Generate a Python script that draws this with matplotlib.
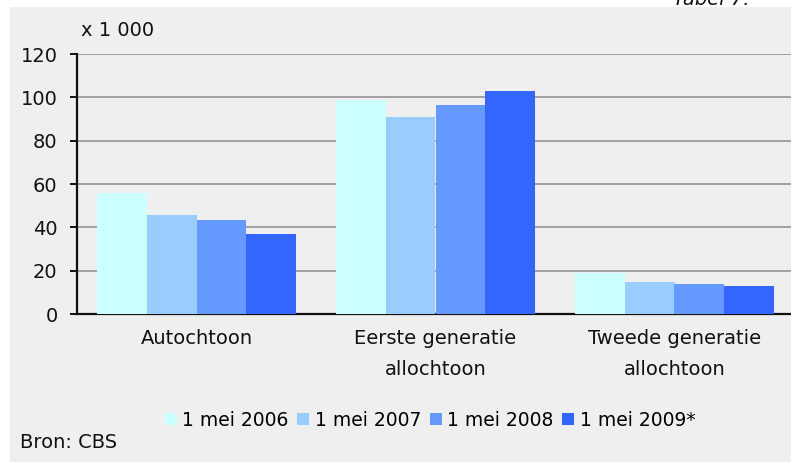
import matplotlib
matplotlib.use("Agg")
import matplotlib.pyplot as plt
from matplotlib.patches import Rectangle
import numpy as np

categories = ["Autochtoon", "Eerste generatie\nallochtoon", "Tweede generatie\nallochtoon"]
series_names = ["1 mei 2006", "1 mei 2007", "1 mei 2008", "1 mei 2009*"]
v2006 = [56, 99, 19]
v2007 = [45.5, 91, 15]
v2008 = [43.5, 96.5, 14]
v2009 = [37, 103, 13]
colors = ["#ccffff", "#99ccff", "#6699ff", "#3366ff"]
yticks = [0, 20, 40, 60, 80, 100, 120]

W, H = 791, 462
plt.rcParams['font.family'] = ['DejaVu Sans']
fs = 14
fig = plt.figure(figsize=(W / 100, H / 100), dpi=100, facecolor="white")

# grey panel
fig.patches.append(Rectangle((10 / W, 0), 1 - 10 / W, 1 - 7 / H, transform=fig.transFigure,
                             facecolor="#efefef", edgecolor="none", zorder=-10))

ax = fig.add_axes([77 / W, 1 - 314 / H, (791 - 77) / W, 260 / H])
ax.set_zorder(1)
ax.patch.set_alpha(0)

x = np.arange(len(categories))
bw = 0.209
data = [v2006, v2007, v2008, v2009]
for i, (vals, c, name) in enumerate(zip(data, colors, series_names)):
    ax.bar(x + (i - 1.5) * bw, vals, width=bw, color=c, edgecolor="none", label=name, zorder=3)

ax.set_ylim(0, 120)
ax.set_xlim(-0.5, -0.5 + 714 / 239)
ax.set_yticks(yticks)
ax.set_yticklabels([str(t) for t in yticks], fontsize=fs, color="#111111")
ax.yaxis.grid(True, color="#a0a0a0", linewidth=1.4, zorder=1)
ax.set_axisbelow(True)
ax.set_xticks(x)
ax.set_xticklabels(categories, fontsize=fs, color="#111111", linespacing=1.8)
ax.tick_params(axis='x', length=0, pad=11)
ax.tick_params(axis='y', length=5, width=1.4, color="#111111", pad=9)
for s in ["top", "right"]:
    ax.spines[s].set_visible(False)
for s in ["left", "bottom"]:
    ax.spines[s].set_color("#111111")
    ax.spines[s].set_linewidth(1.6)

fig.text(81 / W, 1 - 31 / H, "x 1 000", fontsize=fs, va="center", ha="left", color="#111111")
fig.text(673 / W, 1 - 5 / H, "Tabel 7.", fontsize=fs, style="italic", va="baseline", ha="left", color="#111111")
fig.text(20 / W, 1 - 442 / H, "Bron: CBS", fontsize=fs, va="center", ha="left", color="#111111")

handles = [Rectangle((0, 0), 1, 1, facecolor=c, edgecolor="none") for c in colors]
fig.legend(handles, series_names, loc="center", bbox_to_anchor=(430 / W, 1 - 420 / H), ncol=4,
           frameon=False, fontsize=13.5, handlelength=0.64, handleheight=0.64, handletextpad=0.3,
           columnspacing=0.45, borderpad=0, borderaxespad=0)

fig.savefig("out.png", dpi=100, facecolor="white")
